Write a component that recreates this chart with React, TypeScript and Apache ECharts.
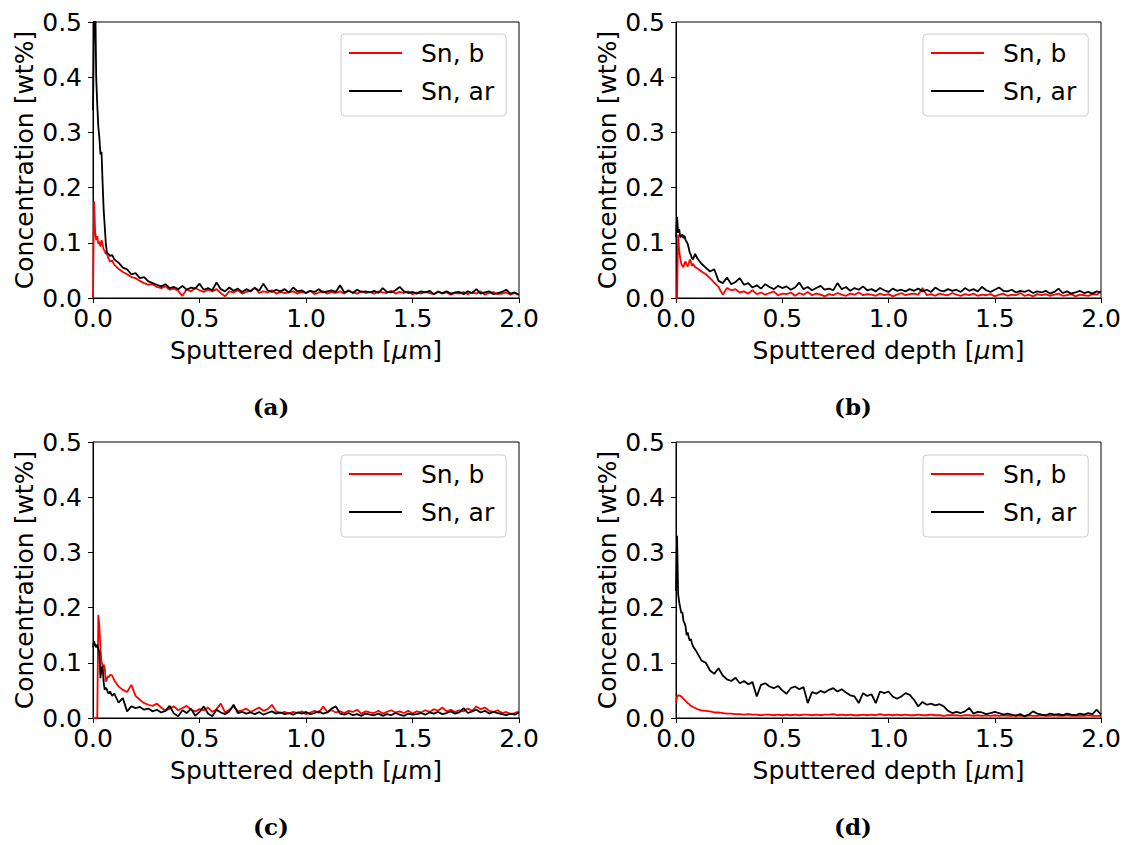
import React, { useEffect, useRef } from "react";
import * as echarts from "echarts";

// Sputtered depth [µm] (shared x positions of all profiles)
const depth = [
  0, 0.005, 0.01, 0.015, 0.02, 0.025, 0.03, 0.035, 0.04, 0.045,
  0.05, 0.055, 0.06, 0.065, 0.07, 0.075, 0.08, 0.09, 0.1,
  0.12, 0.14, 0.16, 0.18, 0.2, 0.22, 0.24, 0.26, 0.28, 0.3,
  0.32, 0.34, 0.36, 0.38, 0.4, 0.42, 0.44, 0.46, 0.48, 0.5,
  0.52, 0.54, 0.56, 0.58, 0.6, 0.62, 0.64, 0.66, 0.68, 0.7,
  0.72, 0.74, 0.76, 0.78, 0.8, 0.82, 0.84, 0.86, 0.88, 0.9,
  0.92, 0.94, 0.96, 0.98, 1.0, 1.02, 1.04, 1.06, 1.08, 1.1,
  1.12, 1.14, 1.16, 1.18, 1.2, 1.22, 1.24, 1.26, 1.28, 1.3,
  1.32, 1.34, 1.36, 1.38, 1.4, 1.42, 1.44, 1.46, 1.48, 1.5,
  1.52, 1.54, 1.56, 1.58, 1.6, 1.62, 1.64, 1.66, 1.68, 1.7,
  1.72, 1.74, 1.76, 1.78, 1.8, 1.82, 1.84, 1.86, 1.88, 1.9,
  1.92, 1.94, 1.96, 1.98, 2.0,
];

// (a) Sn, b
const aB = [
  0.0, 0.175, 0.12, 0.105, 0.112, 0.098, 0.102, 0.093, 0.105, 0.097,
  0.088, 0.085, 0.08, 0.082, 0.074, 0.07, 0.066, 0.068, 0.06,
  0.053, 0.047, 0.043, 0.038, 0.036, 0.031, 0.027, 0.024, 0.025, 0.02,
  0.018, 0.021, 0.015, 0.017, 0.013, 0.004, 0.016, 0.012, 0.018, 0.014,
  0.011, 0.015, 0.012, 0.016, 0.009, 0.003, 0.012, 0.01, 0.014, 0.008,
  0.011, 0.013, 0.019, 0.009, 0.012, 0.01, 0.014, 0.008, 0.011, 0.009,
  0.01, 0.012, 0.008, 0.011, 0.009, 0.013, 0.007, 0.01, 0.012, 0.008,
  0.011, 0.009, 0.012, 0.008, 0.014, 0.01, 0.008, 0.012, 0.009, 0.011,
  0.008, 0.012, 0.01, 0.009, 0.013, 0.008, 0.011, 0.009, 0.012, 0.007,
  0.01, 0.008, 0.011, 0.009, 0.007, 0.012, 0.008, 0.01, 0.006, 0.009,
  0.008, 0.011, 0.007, 0.01, 0.008, 0.012, 0.006, 0.009, 0.011, 0.007,
  0.008, 0.01, 0.006, 0.009, 0.005,
];
// (a) Sn, ar
const aAr = [
  0.34, 0.5, 0.56, 0.4, 0.35, 0.31, 0.29, 0.26, 0.265, 0.21,
  0.16, 0.13, 0.1, 0.083, 0.08, 0.079, 0.076, 0.078, 0.07,
  0.064, 0.055, 0.052, 0.043, 0.045, 0.036, 0.038, 0.03, 0.027, 0.024,
  0.021, 0.025, 0.018, 0.02, 0.016, 0.022, 0.015, 0.019, 0.017, 0.026,
  0.015, 0.018, 0.014, 0.028, 0.016, 0.012, 0.019, 0.013, 0.017, 0.011,
  0.016, 0.012, 0.018, 0.013, 0.026, 0.014, 0.011, 0.015, 0.012, 0.016,
  0.01, 0.019, 0.012, 0.014, 0.009, 0.013, 0.011, 0.016, 0.01, 0.012,
  0.014, 0.011, 0.023, 0.01, 0.013, 0.009, 0.015, 0.011, 0.012, 0.01,
  0.013, 0.009, 0.018, 0.011, 0.01, 0.014, 0.02, 0.012, 0.009, 0.011,
  0.008, 0.012, 0.01, 0.013, 0.007, 0.011, 0.009, 0.012, 0.008, 0.01,
  0.011, 0.007, 0.012, 0.009, 0.016, 0.008, 0.01, 0.012, 0.007, 0.009,
  0.011, 0.015, 0.008, 0.01, 0.006,
];

// (b) Sn, b
const bB = [
  0.0, 0.0, 0.115, 0.085, 0.072, 0.062, 0.058, 0.056, 0.063, 0.066,
  0.06, 0.057, 0.062, 0.07, 0.066, 0.058, 0.062, 0.056, 0.054,
  0.048, 0.043, 0.036, 0.028, 0.02, 0.006, 0.018, 0.014, 0.016, 0.01,
  0.012, 0.008, 0.014, 0.007, 0.01, 0.006, 0.009, 0.012, 0.005, 0.008,
  0.007, 0.01, 0.004, 0.009, 0.006, 0.011, 0.005, 0.008, 0.006, 0.003,
  0.007, 0.005, 0.009, 0.006, 0.004, 0.008, 0.006, 0.01, 0.005, 0.007,
  0.006, 0.004, 0.008, 0.005, 0.007, 0.003, 0.006, 0.009, 0.005, 0.007,
  0.008, 0.006, 0.018, 0.005, 0.007, 0.004, 0.008, 0.006, 0.005, 0.009,
  0.006, 0.004, 0.007, 0.005, 0.008, 0.004, 0.006, 0.005, 0.007, 0.003,
  0.006, 0.008, 0.004, 0.006, 0.005, 0.009, 0.004, 0.006, 0.003, 0.007,
  0.005, 0.007, 0.004, 0.006, 0.008, 0.004, 0.005, 0.007, 0.003, 0.006,
  0.005, 0.004, 0.007, 0.006, 0.012,
];
// (b) Sn, ar
const bAr = [
  0.11, 0.147, 0.118, 0.125, 0.11, 0.112, 0.115, 0.108, 0.113, 0.105,
  0.102, 0.098, 0.09, 0.082, 0.078, 0.072, 0.07, 0.08, 0.072,
  0.062, 0.055, 0.048, 0.052, 0.031, 0.027, 0.037, 0.025, 0.029, 0.036,
  0.024, 0.027, 0.019, 0.023, 0.017, 0.025, 0.02, 0.016, 0.022, 0.018,
  0.021, 0.015, 0.019, 0.028, 0.016, 0.02, 0.014, 0.018, 0.022, 0.015,
  0.017, 0.014, 0.027, 0.016, 0.02, 0.013, 0.018, 0.015, 0.021, 0.014,
  0.016, 0.012, 0.018, 0.014, 0.011, 0.017, 0.013, 0.015, 0.012, 0.016,
  0.013, 0.017, 0.012, 0.015, 0.011, 0.019, 0.014, 0.012, 0.016, 0.013,
  0.015, 0.011, 0.018, 0.013, 0.016, 0.012, 0.02, 0.014, 0.011, 0.015,
  0.019, 0.013, 0.012, 0.015, 0.01, 0.013, 0.011, 0.014, 0.009, 0.012,
  0.01, 0.013, 0.008, 0.011, 0.017, 0.009, 0.012, 0.008, 0.01, 0.013,
  0.009, 0.011, 0.008, 0.012, 0.01,
];

// (c) Sn, b
const cB = [
  0.0, 0.0, 0.0, 0.0, 0.0, 0.187, 0.166, 0.125, 0.102, 0.094,
  0.097, 0.09, 0.066, 0.07, 0.076, 0.074, 0.078, 0.077, 0.068,
  0.057, 0.051, 0.047, 0.06, 0.04, 0.033, 0.027, 0.024, 0.022, 0.026,
  0.019, 0.013, 0.017, 0.021, 0.014, 0.018, 0.022, 0.015, 0.012, 0.016,
  0.014, 0.019, 0.011, 0.016, 0.026, 0.01, 0.015, 0.021, 0.012, 0.014,
  0.017, 0.011, 0.015, 0.019, 0.013, 0.016, 0.024, 0.012, 0.009, 0.011,
  0.008, 0.011, 0.009, 0.012, 0.007, 0.01, 0.013, 0.009, 0.021, 0.011,
  0.014, 0.01, 0.012, 0.009, 0.013, 0.011, 0.015, 0.008, 0.012, 0.01,
  0.009, 0.013, 0.008, 0.011, 0.014, 0.01, 0.012, 0.009, 0.013, 0.008,
  0.012, 0.01, 0.014, 0.011, 0.016, 0.013, 0.019, 0.012, 0.015, 0.011,
  0.014, 0.012, 0.017, 0.013, 0.021, 0.016, 0.019, 0.013, 0.011, 0.014,
  0.009, 0.011, 0.007, 0.009, 0.012,
];
// (c) Sn, ar
const cAr = [
  0.128, 0.139, 0.132, 0.128, 0.133, 0.125, 0.118, 0.072, 0.09, 0.094,
  0.065, 0.051, 0.055, 0.052, 0.046, 0.044, 0.048, 0.04, 0.044,
  0.028, 0.036, 0.012, 0.021, 0.018, 0.02, 0.015, 0.017, 0.012, 0.015,
  0.01, 0.013, 0.022, 0.008, 0.003, 0.014, 0.009, 0.017, 0.004, 0.011,
  0.021, 0.008, 0.003, 0.015, 0.01, 0.007, 0.012, 0.024, 0.009, 0.011,
  0.008, 0.01, 0.007, 0.011, 0.006, 0.009, 0.012, 0.008, 0.01, 0.007,
  0.009, 0.006, 0.01, 0.008, 0.011, 0.007, 0.009, 0.012, 0.008, 0.01,
  0.017, 0.021, 0.008, 0.006, 0.009, 0.005, 0.007, 0.004, 0.008, 0.006,
  0.005, 0.008, 0.004, 0.007, 0.005, 0.009, 0.006, 0.004, 0.008, 0.006,
  0.007, 0.009, 0.006, 0.01, 0.008, 0.011, 0.007, 0.009, 0.012, 0.008,
  0.01, 0.018, 0.009, 0.012, 0.015, 0.01, 0.013, 0.008, 0.011, 0.009,
  0.007, 0.005, 0.008, 0.006, 0.01,
];

// (d) Sn, b
const dB = [
  0.028, 0.038, 0.041, 0.041, 0.04, 0.039, 0.037, 0.035, 0.033, 0.031,
  0.029, 0.027, 0.026, 0.024, 0.022, 0.021, 0.02, 0.018, 0.016,
  0.014, 0.013, 0.012, 0.01, 0.01, 0.009, 0.008, 0.008, 0.007, 0.007,
  0.006, 0.007, 0.006, 0.006, 0.005, 0.006, 0.006, 0.005, 0.006, 0.005,
  0.006, 0.005, 0.006, 0.005, 0.006, 0.006, 0.005, 0.006, 0.005, 0.006,
  0.006, 0.007, 0.005, 0.006, 0.005, 0.006, 0.005, 0.005, 0.006, 0.005,
  0.006, 0.005, 0.007, 0.005, 0.006, 0.005, 0.006, 0.005, 0.006, 0.005,
  0.005, 0.006, 0.005, 0.005, 0.006, 0.005, 0.005, 0.004, 0.005, 0.005,
  0.005, 0.004, 0.005, 0.005, 0.004, 0.005, 0.004, 0.005, 0.004, 0.005,
  0.004, 0.005, 0.004, 0.004, 0.005, 0.004, 0.004, 0.005, 0.004, 0.004,
  0.005, 0.004, 0.004, 0.005, 0.004, 0.004, 0.005, 0.004, 0.004, 0.004,
  0.004, 0.005, 0.004, 0.004, 0.004,
];
// (d) Sn, ar
const dAr = [
  0.23, 0.33, 0.225, 0.21, 0.2, 0.19, 0.192, 0.176, 0.172, 0.166,
  0.15, 0.155, 0.146, 0.14, 0.143, 0.136, 0.13, 0.124, 0.118,
  0.104, 0.1, 0.086, 0.08, 0.09, 0.077, 0.07, 0.067, 0.073, 0.063,
  0.067, 0.061, 0.065, 0.039, 0.06, 0.063, 0.057, 0.054, 0.058, 0.05,
  0.044, 0.054, 0.057, 0.052, 0.056, 0.027, 0.047, 0.044, 0.049, 0.046,
  0.051, 0.054, 0.048, 0.052, 0.046, 0.041, 0.039, 0.027, 0.045, 0.04,
  0.043, 0.027, 0.048, 0.045, 0.048, 0.039, 0.035, 0.039, 0.045, 0.042,
  0.033, 0.021, 0.029, 0.024, 0.026, 0.023, 0.025, 0.021, 0.013, 0.009,
  0.011, 0.009, 0.012, 0.018, 0.008, 0.011, 0.01, 0.007, 0.009, 0.011,
  0.009, 0.006, 0.008, 0.006, 0.004, 0.007, 0.003, 0.006, 0.012, 0.008,
  0.006, 0.005, 0.008, 0.006, 0.007, 0.005, 0.008, 0.006, 0.005, 0.008,
  0.006, 0.009, 0.007, 0.015, 0.006,
];

const seriesNames = ["Sn, b", "Sn, ar"];
const panelLabels = ["(a)", "(b)", "(c)", "(d)"];
const xTicks = [0, 0.5, 1.0, 1.5, 2.0];
const yTicks = [0, 0.1, 0.2, 0.3, 0.4, 0.5];

const FONT = "DejaVu Sans";
const RED = "#ff0000";
const BLACK = "#000000";

const panelData = [
  { b: aB, ar: aAr },
  { b: bB, ar: bAr },
  { b: cB, ar: cAr },
  { b: dB, ar: dAr },
];

const layout = [
  { left: 93, top: 22, width: 426, legendLeft: 341, legendTop: 34, capX: 271, capY: 406 },
  { left: 676, top: 22, width: 425, legendLeft: 923, legendTop: 34, capX: 853, capY: 406 },
  { left: 93, top: 442, width: 426, legendLeft: 341, legendTop: 455, capX: 271, capY: 826 },
  { left: 676, top: 442, width: 425, legendLeft: 923, legendTop: 455, capX: 853, capY: 826 },
];
const PLOT_H = 276;

export default function App() {
  const ref = useRef<HTMLDivElement>(null);

  useEffect(() => {
    if (!ref.current) return;
    const chart = echarts.init(ref.current, undefined, { renderer: "svg" });

    const labelStyle = { fontSize: 25, fontFamily: FONT, color: "#000" };

    const option: any = {
      animation: false,
      textStyle: { fontFamily: FONT },
      grid: layout.map((l) => ({
        left: l.left,
        top: l.top,
        width: l.width,
        height: PLOT_H,
        show: true,
        borderColor: "#000",
        borderWidth: 1,
        backgroundColor: "transparent",
        outerBoundsMode: "none",
        containLabel: false,
      })),
      xAxis: layout.map((_, i) => ({
        type: "value",
        gridIndex: i,
        min: xTicks[0],
        max: xTicks[xTicks.length - 1],
        interval: xTicks[1] - xTicks[0],
        name: "Sputtered depth [{i|μ}m]",
        nameLocation: "middle",
        nameGap: 40,
        nameTextStyle: {
          ...labelStyle,
          rich: { i: { ...labelStyle, fontStyle: "italic" } },
        },
        axisLine: { onZero: false, lineStyle: { color: "#000", width: 1 } },
        axisTick: { show: true, length: 5, lineStyle: { color: "#000", width: 1 } },
        axisLabel: {
          ...labelStyle,
          margin: 8,
          showMinLabel: true,
          showMaxLabel: true,
          formatter: (v: number) => v.toFixed(1),
        },
        splitLine: { show: false },
      })),
      yAxis: layout.map((_, i) => ({
        type: "value",
        gridIndex: i,
        min: yTicks[0],
        max: yTicks[yTicks.length - 1],
        interval: yTicks[1] - yTicks[0],
        name: "Concentration [wt%]",
        nameLocation: "middle",
        nameGap: 56,
        nameTextStyle: { ...labelStyle },
        axisLine: { onZero: false, lineStyle: { color: "#000", width: 1 } },
        axisTick: { show: true, length: 5, lineStyle: { color: "#000", width: 1 } },
        axisLabel: {
          ...labelStyle,
          margin: 11,
          showMinLabel: true,
          showMaxLabel: true,
          formatter: (v: number) => v.toFixed(1),
        },
        splitLine: { show: false },
      })),
      legend: layout.map((l) => ({
        orient: "vertical",
        left: l.legendLeft,
        top: l.legendTop,
        data: seriesNames,
        icon: "rect",
        itemWidth: 53,
        itemHeight: 2,
        itemGap: 12,
        padding: [6, 12, 12, 8],
        backgroundColor: "#ffffff",
        borderColor: "#cccccc",
        borderWidth: 1,
        borderRadius: 4,
        selectedMode: false,
        textStyle: { ...labelStyle, lineHeight: 26, padding: [0, 0, 0, 14] },
      })),
      series: panelData.flatMap((p, i) => [
        {
          name: seriesNames[0],
          type: "line",
          xAxisIndex: i,
          yAxisIndex: i,
          data: depth.map((d, k) => [d, p.b[k]]),
          showSymbol: false,
          symbol: "none",
          color: RED,
          lineStyle: { color: RED, width: 1.8 },
          clip: true,
        },
        {
          name: seriesNames[1],
          type: "line",
          xAxisIndex: i,
          yAxisIndex: i,
          data: depth.map((d, k) => [d, p.ar[k]]),
          showSymbol: false,
          symbol: "none",
          color: BLACK,
          lineStyle: { color: BLACK, width: 1.8 },
          clip: true,
        },
      ]),
      graphic: layout.map((l, i) => ({
        type: "text",
        x: l.capX,
        y: l.capY,
        style: {
          text: panelLabels[i],
          fill: "#000",
          font: "bold 23px 'DejaVu Serif'",
          textAlign: "center",
          textVerticalAlign: "middle",
        },
      })),
    };

    chart.setOption(option);
    return () => chart.dispose();
  }, []);

  return (
    <div
      ref={ref}
      style={{ position: "absolute", left: 0, top: 0, width: 1128, height: 845, background: "#fff" }}
    />
  );
}
